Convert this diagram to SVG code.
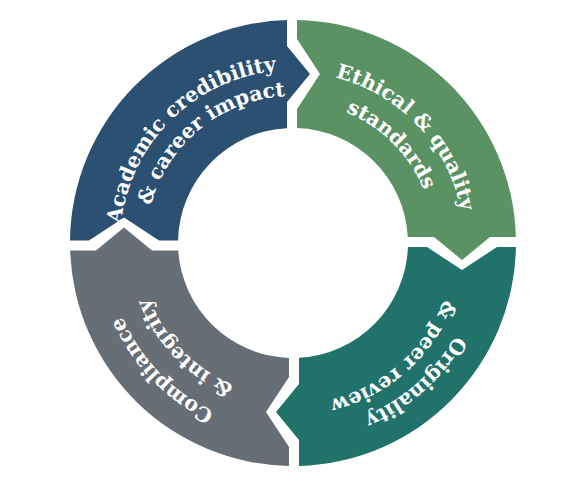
<svg xmlns="http://www.w3.org/2000/svg" xmlns:xlink="http://www.w3.org/1999/xlink" width="588" height="490" viewBox="0 0 588 490">
<style>
.lbl{font-family:"DejaVu Serif","Liberation Serif",serif;font-weight:bold;font-size:20.5px;fill:#ffffff;text-anchor:middle}
</style>
<defs>
<path id="tb1" d="M 120 243 A 173 173 0 0 1 293 70"/>
<path id="tb2" d="M 146 243 A 147 147 0 0 1 293 96"/>
<path id="tg1" d="M 293 72 A 171 171 0 0 1 464 243"/>
<path id="tg2" d="M 293 102 A 141 141 0 0 1 434 243"/>
<path id="tt1" d="M 480 243 A 187 187 0 0 1 293 430"/>
<path id="tt2" d="M 454 243 A 161 161 0 0 1 293 404"/>
<path id="ty1" d="M 293 429 A 186 186 0 0 1 107 243"/>
<path id="ty2" d="M 293 397 A 154 154 0 0 1 139 243"/>
</defs>
<rect width="588" height="490" fill="#ffffff"/>
<g id="connectors"></g>
<g id="node-academic">
<path fill="#2c5072" d="M 70.01 240.5 A 223 223 0 0 1 287 20.08 L 287 46 L 310 74 L 287 102 L 287 128.16 A 115 115 0 0 0 178.03 240.5 L 159 240.5 L 124 217.5 L 89 240.5 Z"/>
<text class="lbl"><textPath xlink:href="#tb1" href="#tb1" startOffset="50.5%">Academic credibility</textPath></text>
<text class="lbl"><textPath xlink:href="#tb2" href="#tb2" startOffset="56.5%">&amp; career impact</textPath></text>
</g>
<g id="node-ethical">
<path fill="#5b9263" d="M 297 20.04 A 223 223 0 0 1 515.9 237 L 490 237 L 462 260 L 434 237 L 407.8 237 A 115 115 0 0 0 297 128.07 L 297 109 L 320 74 L 297 39 Z"/>
<text class="lbl"><textPath xlink:href="#tg1" href="#tg1" startOffset="52%">Ethical &amp; quality</textPath></text>
<text class="lbl"><textPath xlink:href="#tg2" href="#tg2" startOffset="50%">standards</textPath></text>
</g>
<g id="node-originality">
<path fill="#21726b" d="M 515.96 247 A 223 223 0 0 1 299 465.9 L 299 440 L 276 412 L 299 384 L 299 357.8 A 115 115 0 0 0 407.9 247 L 427 247 L 462 270 L 497 247 Z"/>
<text class="lbl"><textPath xlink:href="#tt1" href="#tt1" startOffset="54%">Originality</textPath></text>
<text class="lbl"><textPath xlink:href="#tt2" href="#tt2" startOffset="54%">&amp; peer review</textPath></text>
</g>
<g id="node-compliance">
<path fill="#686e75" d="M 289 465.96 A 223 223 0 0 1 70.13 250.5 L 96 250.5 L 124 227.5 L 152 250.5 L 178.24 250.5 A 115 115 0 0 0 289 357.93 L 289 377 L 266 412 L 289 447 Z"/>
<text class="lbl"><textPath xlink:href="#ty1" href="#ty1" startOffset="51%">Compliance</textPath></text>
<text class="lbl"><textPath xlink:href="#ty2" href="#ty2" startOffset="51%">&amp; integrity</textPath></text>
</g>
</svg>
